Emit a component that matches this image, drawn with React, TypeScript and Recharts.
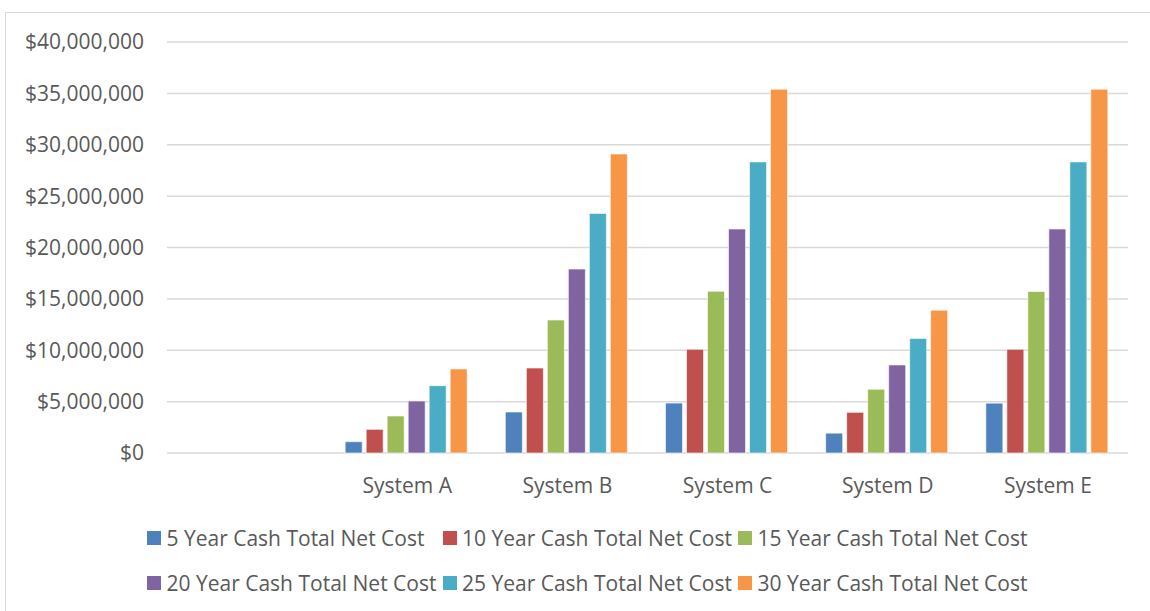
import { BarChart, Bar, XAxis, YAxis, CartesianGrid, Legend } from 'recharts';

const systems = ['', 'System A', 'System B', 'System C', 'System D', 'System E'];

const cost5 = [null, 1.1, 3.99, 4.86, 1.93, 4.85];
const cost10 = [null, 2.3, 8.27, 10.09, 3.96, 10.09];
const cost15 = [null, 3.6, 12.94, 15.74, 6.2, 15.72];
const cost20 = [null, 5.06, 17.9, 21.8, 8.57, 21.8];
const cost25 = [null, 6.55, 23.32, 28.33, 11.15, 28.33];
const cost30 = [null, 8.18, 29.1, 35.4, 13.9, 35.4];

const yTicks = [0, 5000000, 10000000, 15000000, 20000000, 25000000, 30000000, 35000000, 40000000];

const seriesNames = [
  '5 Year Cash Total Net Cost',
  '10 Year Cash Total Net Cost',
  '15 Year Cash Total Net Cost',
  '20 Year Cash Total Net Cost',
  '25 Year Cash Total Net Cost',
  '30 Year Cash Total Net Cost',
];
const colors = ['#4f81bd', '#c0504d', '#9bbb59', '#8064a2', '#4bacc6', '#f79646'];
const allSeries = [cost5, cost10, cost15, cost20, cost25, cost30];

const data = systems.map((name, i) => {
  const row: any = { name };
  allSeries.forEach((s, k) => {
    row['s' + k] = s[i] == null ? null : (s[i] as number) * 1000000;
  });
  return row;
});

const fmt = (v: number) => '$' + v.toLocaleString('en-US');

const LegendBox = (props: any) => {
  const items = [...(props.payload || [])].sort(
    (a: any, b: any) => seriesNames.indexOf(a.value) - seriesNames.indexOf(b.value)
  );
  return (
    <div style={{ display: 'grid', gridTemplateColumns: 'repeat(3, 295.5px)', fontFamily: 'Open Sans', fontSize: 21, color: '#595959' }}>
      {items.map((it: any) => (
        <div key={it.value} style={{ display: 'flex', alignItems: 'center', height: 45.5, whiteSpace: 'nowrap' }}>
          <span style={{ width: 14, height: 14, background: it.color, marginRight: 5.5, display: 'inline-block' }} />
          <span>{it.value}</span>
        </div>
      ))}
    </div>
  );
};

export default function App() {
  return (
    <div style={{ position: 'absolute', left: 0, top: 0, width: 1150, height: 611, overflow: 'hidden', background: '#fff' }}>
      <div style={{ position: 'absolute', left: 5, top: 12, width: 1200, height: 700, border: '1.5px solid #d9d9d9' }} />
      <div style={{ position: 'absolute', left: 0, top: 0 }}>
        <BarChart
          width={1150}
          height={611}
          data={data}
          margin={{ top: 42, right: 22, left: 0, bottom: 118 }}
          barCategoryGap="11.25%"
          barGap={4}
        >
          <CartesianGrid vertical={false} stroke="#d9d9d9" strokeWidth={1.5} />
          <XAxis
            dataKey="name"
            axisLine={false}
            tickLine={false}
            tickSize={0}
            tickMargin={25}
            height={40}
            tick={{ fill: '#595959', fontSize: 21, fontFamily: 'Open Sans' }}
          />
          <YAxis
            width={167}
            domain={[0, 40000000]}
            ticks={yTicks}
            axisLine={false}
            tickLine={false}
            tickSize={0}
            tickMargin={23}
            tickFormatter={fmt}
            tick={{ fill: '#595959', fontSize: 21, fontFamily: 'Open Sans' }}
          />
          <Legend
            verticalAlign="middle"
            align="center"
            itemSorter={null as any}
            content={<LegendBox />}
            wrapperStyle={{ top: 514.75, left: 147, width: 900 }}
          />
          {seriesNames.map((n, k) => (
            <Bar
              key={n}
              dataKey={'s' + k}
              name={n}
              fill={colors[k]}
              stroke="#ffffff"
              strokeOpacity={0.6}
              strokeWidth={1}
              isAnimationActive={false}
            />
          ))}
        </BarChart>
      </div>
    </div>
  );
}
